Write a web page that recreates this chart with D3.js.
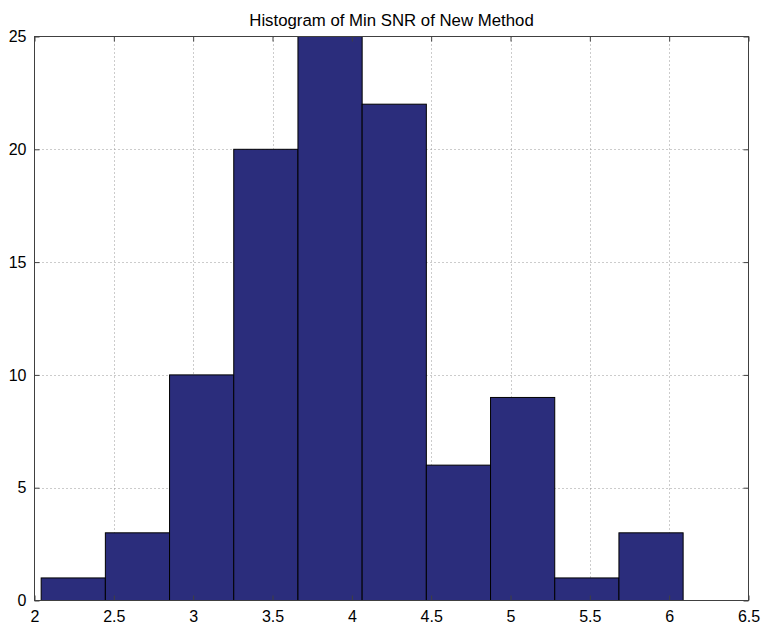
<!DOCTYPE html>
<html><head><meta charset="utf-8">
<script src="https://cdn.jsdelivr.net/npm/d3@7"></script>
<style>body{margin:0;background:#fff;} text{font-family:"Liberation Sans",Arial,sans-serif;}</style>
</head><body>
<svg id="c" width="764" height="625"></svg>
<script>
const binEdgesStart = 2.042, binEdgesEnd = 6.088;
const counts = [1, 3, 10, 20, 25, 22, 6, 9, 1, 3];
const xTicks = [2, 2.5, 3, 3.5, 4, 4.5, 5, 5.5, 6, 6.5];
const yTicks = [0, 5, 10, 15, 20, 25];
const title = "Histogram of Min SNR of New Method";

const svg = d3.select("#c");
const L = 34.5, R = 748.5, T = 36.5, B = 600.5;
const x = d3.scaleLinear().domain([2, 6.5]).range([L, R]);
const y = d3.scaleLinear().domain([0, 25]).range([B, T]);
const w = (binEdgesEnd - binEdgesStart) / counts.length;
const bins = counts.map((c, i) => ({x0: binEdgesStart + i * w, x1: binEdgesStart + (i + 1) * w, c}));

svg.append("rect").attr("x", L).attr("y", T).attr("width", R - L).attr("height", B - T).attr("fill", "#fff");

// grid
const g = svg.append("g");
g.selectAll("line.vx").data(xTicks.slice(1, -1)).join("line")
  .attr("x1", d => Math.round(x(d)) + 0.5).attr("x2", d => Math.round(x(d)) + 0.5)
  .attr("y1", T).attr("y2", B).attr("stroke", "#999").attr("stroke-width", 1).attr("stroke-dasharray", "1,3");
g.selectAll("line.hy").data(yTicks.slice(1, -1)).join("line")
  .attr("y1", d => Math.round(y(d)) + 0.5).attr("y2", d => Math.round(y(d)) + 0.5)
  .attr("x1", L).attr("x2", R).attr("stroke", "#999").attr("stroke-width", 1).attr("stroke-dasharray", "1,3");

// bars
svg.append("g").selectAll("rect").data(bins).join("rect")
  .attr("x", d => x(d.x0)).attr("width", d => x(d.x1) - x(d.x0))
  .attr("y", d => y(d.c)).attr("height", d => y(0) - y(d.c))
  .attr("fill", "#2b2d7c").attr("stroke", "#000").attr("stroke-width", 1);

// frame
svg.append("rect").attr("x", L).attr("y", T).attr("width", R - L).attr("height", B - T)
  .attr("fill", "none").attr("stroke", "#404040").attr("stroke-width", 1);

// axes (ticks inside)
const xa = svg.append("g").attr("transform", `translate(0,${B})`)
  .call(d3.axisBottom(x).tickValues(xTicks).tickSize(-5).tickPadding(8).tickFormat(d3.format("")));
const xa2 = svg.append("g").attr("transform", `translate(0,${T})`)
  .call(d3.axisTop(x).tickValues(xTicks).tickSize(-5).tickFormat(""));
const ya = svg.append("g").attr("transform", `translate(${L},0)`)
  .call(d3.axisLeft(y).tickValues(yTicks).tickSize(-5).tickPadding(8));
const ya2 = svg.append("g").attr("transform", `translate(${R},0)`)
  .call(d3.axisRight(y).tickValues(yTicks).tickSize(-5).tickFormat(""));
[xa, xa2, ya, ya2].forEach(a => {
  a.select(".domain").remove();
  a.selectAll("line").attr("stroke", "#404040");
  a.selectAll("text").attr("font-size", 16).attr("fill", "#000").attr("font-family", "Liberation Sans, Arial, sans-serif");
});
xa.selectAll("text").attr("dy", "0.85em");

svg.append("text").attr("x", (L + R) / 2).attr("y", 26).attr("text-anchor", "middle")
  .attr("font-size", 16.8).attr("fill", "#000").text(title);
</script>
</body></html>
